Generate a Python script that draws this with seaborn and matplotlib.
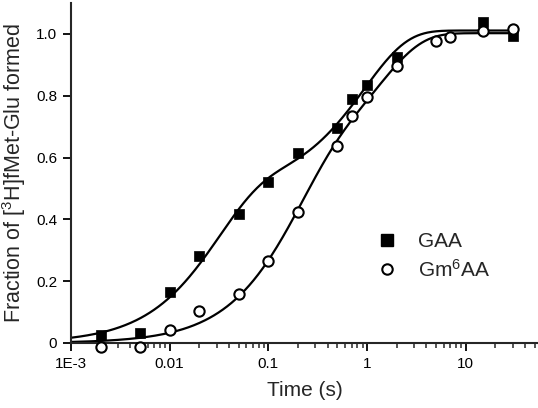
import numpy as np
import seaborn as sns
import matplotlib
matplotlib.use("Agg")
import matplotlib.pyplot as plt
from matplotlib.ticker import FixedLocator, FixedFormatter, LogLocator, NullFormatter
from matplotlib.lines import Line2D

# data
gaa_time = [0.002, 0.005, 0.01, 0.02, 0.05, 0.1, 0.2, 0.5, 0.7, 1, 2, 15, 30]
gaa_frac = [0.026, 0.032, 0.165, 0.28, 0.417, 0.52, 0.615, 0.696, 0.79, 0.835, 0.926, 1.04, 0.994]
gm6_time = [0.002, 0.005, 0.01, 0.02, 0.05, 0.1, 0.2, 0.5, 0.7, 1, 2, 5, 7, 15, 30]
gm6_frac = [-0.013, -0.013, 0.042, 0.104, 0.158, 0.265, 0.424, 0.638, 0.735, 0.797, 0.897, 0.977, 0.99, 1.01, 1.016]

x_ticks = [1e-3, 0.01, 0.1, 1, 10]
x_tick_labels = ["1E-3", "0.01", "0.1", "1", "10"]
y_ticks = [0, 0.2, 0.4, 0.6, 0.8, 1.0]
y_tick_labels = ["0", "0.2", "0.4", "0.6", "0.8", "1.0"]


def fit_biexp(t, y):
    # two-exponential fit: amplitudes by least squares, rates by grid search
    t = np.asarray(t, float)
    y = np.asarray(y, float)
    ks = np.logspace(-1, 3, 161)
    best = (np.inf, None, None)
    for i, k1 in enumerate(ks):
        for k2 in ks[:i + 1]:
            X = np.column_stack([1 - np.exp(-k1 * t), 1 - np.exp(-k2 * t)])
            a = np.linalg.lstsq(X, y, rcond=None)[0]
            err = np.sum((X @ a - y) ** 2)
            if err < best[0]:
                best = (err, (k1, k2), a)
    (k1, k2), a = best[1], best[2]
    return lambda tt: a[0] * (1 - np.exp(-k1 * tt)) + a[1] * (1 - np.exp(-k2 * tt))


sns.set_style("ticks")
plt.rcParams['font.family'] = ['Liberation Sans', 'DejaVu Sans']
plt.rcParams['mathtext.fontset'] = 'custom'
plt.rcParams['mathtext.rm'] = 'Liberation Sans'
plt.rcParams['mathtext.it'] = 'Liberation Sans'

fig = plt.figure(figsize=(5.38, 4.08), dpi=100)
ax = fig.add_axes([71 / 538, 65 / 408, 467 / 538, 340 / 408])

t_fine = np.logspace(-3, np.log10(30), 400)
f_gaa = fit_biexp(gaa_time, gaa_frac)
f_gm6 = fit_biexp(gm6_time, gm6_frac)
sns.lineplot(x=t_fine, y=f_gaa(t_fine), color='black', lw=1.6, ax=ax)
sns.lineplot(x=t_fine, y=f_gm6(t_fine), color='black', lw=1.6, ax=ax)

sns.scatterplot(x=gaa_time, y=gaa_frac, marker='s', s=55, color='black',
                edgecolor='black', linewidth=0.5, ax=ax, clip_on=False, zorder=3)
sns.scatterplot(x=gm6_time, y=gm6_frac, marker='o', s=55, facecolor='white',
                edgecolor='black', linewidth=1.5, ax=ax, clip_on=False, zorder=3)

ax.set_xscale('log')
ax.set_xlim(1e-3, 54)
ax.set_ylim(0, 1.1)
ax.xaxis.set_major_locator(FixedLocator(x_ticks))
ax.xaxis.set_major_formatter(FixedFormatter(x_tick_labels))
ax.xaxis.set_minor_locator(LogLocator(base=10, subs=np.arange(2, 10)))
ax.xaxis.set_minor_formatter(NullFormatter())
ax.yaxis.set_major_locator(FixedLocator(y_ticks))
ax.yaxis.set_major_formatter(FixedFormatter(y_tick_labels))

sns.despine(ax=ax)
for sp in ['left', 'bottom']:
    ax.spines[sp].set_linewidth(1.5)
ax.tick_params(which='major', length=6, width=1.3, labelsize=11, colors='black', pad=4)
ax.tick_params(which='minor', length=3.5, width=1.1)

ax.set_xlabel('Time (s)', fontsize=15, labelpad=7)
ax.set_ylabel('Fraction of [$^3$H]fMet-Glu formed', fontsize=15.5, labelpad=6)

handles = [
    Line2D([], [], ls='none', marker='s', ms=8, mfc='black', mec='black'),
    Line2D([], [], ls='none', marker='o', ms=7.5, mfc='white', mec='black', mew=1.5),
]
ax.legend(handles, ['GAA', 'Gm$^6$AA'], loc='upper left', frameon=False,
          bbox_to_anchor=(358 / 538, 1 - 224 / 408), bbox_transform=fig.transFigure,
          fontsize=15, handletextpad=0.5, labelspacing=0.35, borderaxespad=0)

fig.savefig('out.png', dpi=100)
